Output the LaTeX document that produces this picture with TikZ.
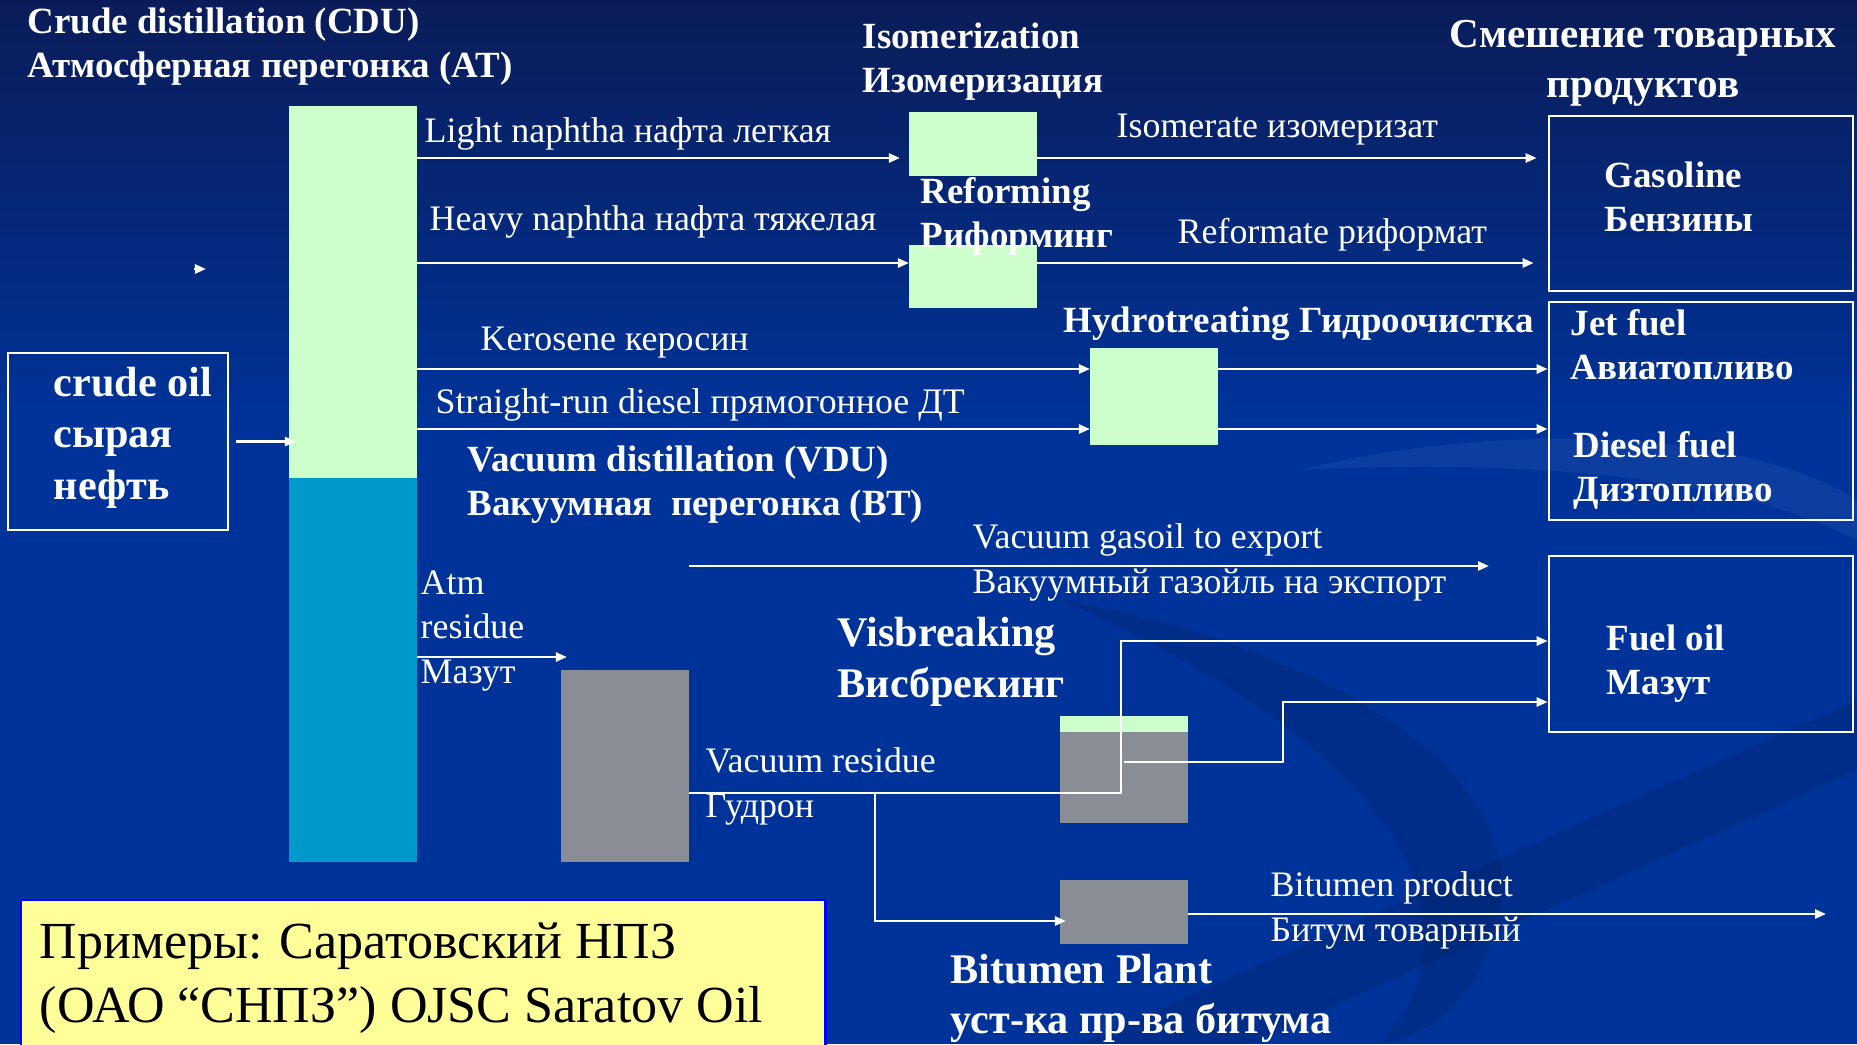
\documentclass[tikz,border=0pt]{standalone}
\usepackage{fontspec}
\setmainfont{Liberation Serif}
\usetikzlibrary{positioning,arrows.meta,calc}

\definecolor{slide}{RGB}{0,51,153}
\definecolor{slidetop}{RGB}{10,28,88}
\definecolor{pale}{RGB}{204,255,204}
\definecolor{tower}{RGB}{0,153,204}
\definecolor{slag}{RGB}{138,141,150}
\definecolor{note}{RGB}{255,255,153}

\begin{document}
\begin{tikzpicture}[x=0.01cm, y=-0.01cm,
        unit/.style={fill=pale, inner sep=0pt, outer sep=0pt, minimum width=1.28cm},
        heavy/.style={unit, fill=slag},
        prod/.style={draw=white, line width=0.7pt, inner sep=0pt, minimum width=3.04cm},
        arrow/.style={-{Triangle[length=0.11cm,width=0.09cm]}, white, line width=0.7pt},
        lbl/.style={text=white, inner sep=0pt, anchor=base west, align=left,
                    font=\fontsize{10.2}{12.6}\selectfont},
        ttl/.style={lbl, font=\bfseries\fontsize{10.5}{12.5}\selectfont},
        big/.style={lbl, font=\bfseries\fontsize{12}{14.3}\selectfont},
    ]
    \useasboundingbox (0,0) rectangle (1857,1044);
    \fill[slide] (0,0) rectangle (1857,1044);
    \shade[top color=slidetop, bottom color=slide] (0,0) rectangle (1857,420);
    % background swirls
    \fill[black, opacity=0.10] (1060,600) .. controls (1300,640) and (1520,760) .. (1500,900)
        .. controls (1490,1000) and (1420,1040) .. (1380,1044)
        .. controls (1460,960) and (1470,780) .. (1060,600);
    \fill[white, opacity=0.05] (1300,470) .. controls (1500,420) and (1750,430) .. (1857,500)
        -- (1857,540) .. controls (1720,470) and (1500,460) .. (1300,470);
    \fill[black, opacity=0.10] (1080,1044) -- (1857,700) -- (1857,770) -- (1250,1044) -- cycle;

    \node[prod, minimum width=2.2cm, minimum height=1.77cm] (crude) at (118,441.5) {};
    \node[unit, minimum height=3.72cm] (cduTop) at (353,292) {};
    \node[unit, fill=tower, minimum height=3.84cm, below=0pt of cduTop] (cduBot) {};
    \node[unit, minimum height=0.64cm] (isom)   at (973,144) {};
    \node[unit, minimum height=0.63cm] (reform) at (973,276.5) {};
    \node[unit, minimum height=0.97cm] (hydro)  at (1154,396.5) {};
    \node[heavy, minimum height=1.92cm] (vdu)   at (625,766) {};
    \node[heavy, minimum height=0.91cm] (visb)  at (1124,777.5) {};
    \node[unit, minimum height=0.16cm, above=0pt of visb] (visbTop) {};
    \node[heavy, minimum height=0.64cm] (bitum) at (1124,912) {};
    \node[prod, minimum height=1.75cm] (gasoline)  at (1701,203.5) {};
    \node[prod, minimum height=2.18cm] (jetdiesel) at (1701,411) {};
    \node[prod, minimum height=1.76cm] (fueloil)   at (1701,644) {};
    \node[draw=blue, fill=note, line width=0.6pt, inner sep=0pt, anchor=north west,
          minimum width=8.04cm, minimum height=1.6cm] (example) at (20,899) {};

    \coordinate (lnap) at (0,158);
    \coordinate (hnap) at (0,263);
    \coordinate (kero) at (0,369);
    \coordinate (dies) at (0,429);
    \coordinate (vgo)  at (0,566);
    \coordinate (atm)  at (0,657);
    \coordinate (vbOut) at (0,762);
    \coordinate (vres) at (0,793);
    \coordinate (bitIn) at (0,921);
    \coordinate (fo1) at (1121,641);
    \coordinate (fo2) at (1283,702);
    \coordinate (vrSplit) at (875,793);
    \coordinate (vgoEnd) at (1489,566);
    \coordinate (bitEnd) at (1826,914);
    \coordinate (stray) at (206,269);

    \draw[arrow, shorten <=0.07cm, shorten >=-0.07cm] (crude.east) -- (crude.east -| cduTop.west);
    \draw[arrow, shorten >=0.09cm] (cduTop.east |- lnap) -- (isom.west |- lnap);
    \draw[arrow, shorten >=0.11cm] (isom.east |- lnap) -- (gasoline.west |- lnap);
    \draw[arrow] (cduTop.east |- hnap) -- (reform.west |- hnap);
    \draw[arrow, shorten >=0.14cm] (reform.east |- hnap) -- (gasoline.west |- hnap);
    \draw[arrow] (cduTop.east |- kero) -- (hydro.west |- kero);
    \draw[arrow] (cduTop.east |- dies) -- (hydro.west |- dies);
    \draw[arrow] (hydro.east |- kero) -- (jetdiesel.west |- kero);
    \draw[arrow] (hydro.east |- dies) -- (jetdiesel.west |- dies);
    \draw[arrow, shorten >=-0.06cm] (cduBot.east |- atm) -- (vdu.west |- atm);
    \draw[arrow] (vdu.east |- vgo) -- (vgoEnd);
    \draw[arrow] (vdu.east |- vres) -| (fo1) -- (fueloil.west |- fo1);
    \draw[arrow] (visb.center |- vbOut) -| (fo2) -- (fueloil.west |- fo2);
    \draw[arrow, shorten >=-0.06cm] (vrSplit) |- (bitum.west |- bitIn);
    \draw[arrow] (bitum.east |- bitEnd) -- (bitEnd);
    \draw[arrow] ([xshift=-0.12cm]stray) -- (stray);

    \node[ttl] (cduT) at (27,77) {Crude distillation (CDU)\\Атмосферная перегонка (АТ)};
    \node[ttl] (isomT) at (862,92) {Isomerization\\Изомеризация};
    \node[ttl, anchor=base, align=center, font=\bfseries\fontsize{11.7}{14.2}\selectfont]
        (blendT) at (1643,97) {Смешение товарных\\продуктов};
    \node[ttl] (reformT) at (920,247) {Reforming\\Риформинг};
    \node[ttl] (hydroT) at (1063,332) {Hydrotreating Гидроочистка};
    \node[ttl] (vduT) at (467,515) {Vacuum distillation (VDU)\\Вакуумная \ перегонка (ВТ)};
    \node[big] (visbT) at (837,697) {Visbreaking\\Висбрекинг};
    \node[big, font=\bfseries\fontsize{12}{14.2}\selectfont] (bitT) at (950,1033)
        {Bitumen Plant\\уст-ка пр-ва битума};
    \node[big, font=\bfseries\fontsize{12}{14.6}\selectfont] (crudeT) at (53,499)
        {crude oil\\сырая\\нефть};
    \node[ttl] (gasT) at (1604,231) {Gasoline\\Бензины};
    \node[ttl] (jetT) at (1570,379) {Jet fuel\\Авиатопливо};
    \node[ttl] (dieselT) at (1573,501) {Diesel fuel\\Дизтопливо};
    \node[ttl] (fuelT) at (1606,694) {Fuel oil\\Мазут};

    \node[lbl] (lnapL) at (424,142) {Light naphtha нафта легкая};
    \node[lbl] (hnapL) at (429,230) {Heavy naphtha нафта тяжелая};
    \node[lbl] (isoL) at (1116,137) {Isomerate изомеризат};
    \node[lbl] (refL) at (1177,243) {Reformate риформат};
    \node[lbl] (keroL) at (480,350) {Kerosene керосин};
    \node[lbl] (diesL) at (435,413) {Straight-run diesel прямогонное ДТ};
    \node[lbl] (atmL) at (420,683) {Atm\\residue\\Мазут};
    \node[lbl] (vgoL) at (972,593) {Vacuum gasoil to export\\Вакуумный газойль на экспорт};
    \node[lbl] (vresL) at (705,817) {Vacuum residue\\Гудрон};
    \node[lbl] (bitL) at (1270,941) {Bitumen product\\Битум товарный};
    \node[lbl, text=black, font=\fontsize{14.8}{18.2}\selectfont] (exampleT) at (39,1022)
        {Примеры: Саратовский НПЗ\\(ОАО “СНПЗ”) OJSC Saratov Oil};
\end{tikzpicture}
\end{document}
